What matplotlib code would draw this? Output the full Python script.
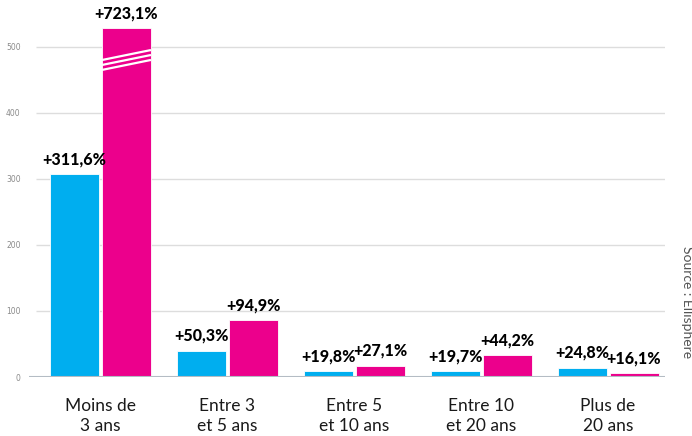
import matplotlib
matplotlib.use("Agg")
import matplotlib.pyplot as plt
import numpy as np

categories = ["Moins de\n3 ans", "Entre 3\net 5 ans", "Entre 5\net 10 ans", "Entre 10\net 20 ans", "Plus de\n20 ans"]
series_a = [307, 40, 9, 9, 14]      # cyan bars (as drawn)
series_b = [528, 86, 17, 33, 6]     # magenta bars (as drawn, first one capped)
labels_a = ["+311,6%", "+50,3%", "+19,8%", "+19,7%", "+24,8%"]
labels_b = ["+723,1%", "+94,9%", "+27,1%", "+44,2%", "+16,1%"]
yticks = [0, 100, 200, 300, 400, 500]

CYAN = "#00AEEF"
MAGENTA = "#EC008C"

fig = plt.figure(figsize=(6.92, 4.36), dpi=100)
ax = fig.add_axes([29/692, 59/436, (665-29)/692, 377/436])

x = np.arange(len(categories))
w = 0.386
gap = 0.024
bars_a = ax.bar(x - (w + gap)/2, series_a, w, color=CYAN, edgecolor="white", linewidth=0.6, zorder=3)
bars_b = ax.bar(x + (w + gap)/2, series_b, w, color=MAGENTA, edgecolor="white", linewidth=0.6, zorder=3)

ax.set_xlim(-0.563, 4.449)
ax.set_ylim(0, 570.4)

# gridlines
ax.hlines(yticks[1:], -0.504, 4.449, color="#dddddd", linewidth=1.0, zorder=1)
ax.axhline(0, color="#b4bcc4", linewidth=1.5, zorder=4)

for s in ax.spines.values():
    s.set_visible(False)
ax.set_yticks(yticks)
ax.set_yticklabels([str(t) for t in yticks], fontsize=5.5, color="#8a8a8a")
ax.tick_params(axis="y", length=0, pad=6)
ax.set_xticks(x)
ax.set_xticklabels(categories, fontsize=12.5, family=["Lato", "DejaVu Sans"], fontweight="normal",
                   color="#1a1a1a", linespacing=1.35)
ax.tick_params(axis="x", length=0, pad=15)

for bars, labs in ((bars_a, labels_a), (bars_b, labels_b)):
    for r, lab in zip(bars, labs):
        ax.annotate(lab, (r.get_x() + r.get_width()/2, r.get_height()),
                    xytext=(0, 5), textcoords="offset points", ha="center", va="bottom",
                    fontsize=11.5, fontweight="black", color="black", zorder=5,
                    family=["Lato", "DejaVu Sans"])

# break marks on the capped bar
r = bars_b[0]
x0, x1 = r.get_x(), r.get_x() + r.get_width()
for off in (0, -7.5, -15):
    ax.plot([x0, x1], [479.6 + off, 494.7 + off], color="white", linewidth=1.6,
            solid_capstyle="butt", zorder=4)

fig.text(687/692, 1 - 302/436, "Source : Ellisphere", rotation=-90, ha="center", va="center",
         fontsize=10, color="#555555", family=["Lato", "DejaVu Sans"], fontweight="normal")

fig.savefig("out.png", dpi=100)
